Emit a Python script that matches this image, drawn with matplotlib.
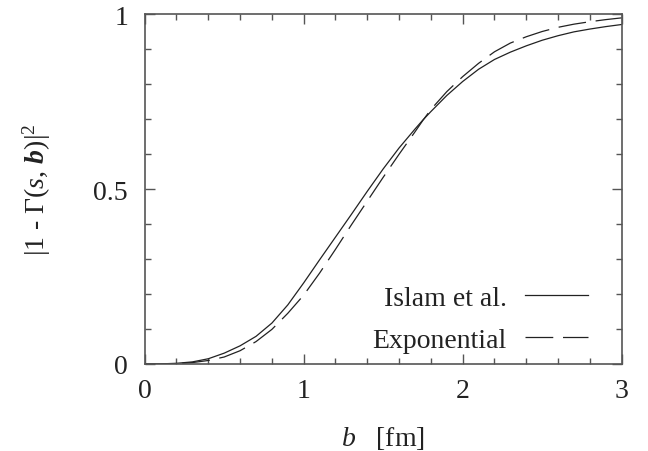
import numpy as np
import matplotlib
matplotlib.use('Agg')
from matplotlib import pyplot as plt
from matplotlib.ticker import MultipleLocator

# values
b = [0.0, 0.1, 0.2, 0.3, 0.4, 0.5, 0.6, 0.7, 0.8, 0.9, 1.0, 1.1, 1.2, 1.3,
     1.4, 1.5, 1.6, 1.7, 1.75, 1.8, 1.9, 2.0, 2.1, 2.2, 2.3, 2.4, 2.5, 2.6,
     2.7, 2.8, 2.9, 3.0]
islam = [0.0, 0.0003, 0.002, 0.006, 0.015, 0.031, 0.052, 0.079, 0.117,
         0.169, 0.232, 0.298, 0.363, 0.428, 0.494, 0.558, 0.618, 0.672,
         0.698, 0.722, 0.768, 0.808, 0.843, 0.871, 0.892, 0.91, 0.926,
         0.939, 0.95, 0.958, 0.965, 0.971]
expo = [0.0, 0.0002, 0.001, 0.004, 0.010, 0.020, 0.038, 0.064, 0.099,
        0.145, 0.197, 0.26, 0.328, 0.398, 0.466, 0.534, 0.60, 0.664,
        0.697, 0.728, 0.779, 0.822, 0.86, 0.893, 0.918, 0.936, 0.951,
        0.963, 0.972, 0.979, 0.985, 0.99]

plt.rcParams['font.family'] = ['Liberation Serif']
plt.rcParams['mathtext.fontset'] = 'custom'
plt.rcParams['mathtext.rm'] = 'Liberation Serif'
plt.rcParams['mathtext.it'] = 'Liberation Serif:italic'
plt.rcParams['mathtext.bf'] = 'Liberation Serif:bold'
plt.rcParams['mathtext.bfit'] = 'Liberation Serif:italic:bold'
plt.rcParams['font.size'] = 20
plt.rcParams['lines.scale_dashes'] = False

fig, ax = plt.subplots(figsize=(6.48, 4.52), dpi=100)
fig.subplots_adjust(left=0.2233, right=0.9594, top=0.966, bottom=0.1925)

ax.plot(b, islam, color='#222222', lw=0.9, label='Islam et al.')
ax.plot(b, expo, color='#222222', lw=0.9, dashes=(20, 7), label='Exponential')

ax.set_xlim(0, 3)
ax.set_ylim(0, 1)
ax.set_xticks([0, 1, 2, 3])
ax.set_yticks([0, 0.5, 1])
ax.set_yticklabels(['0', '0.5', '1'])
ax.xaxis.set_minor_locator(MultipleLocator(0.2))
ax.yaxis.set_minor_locator(MultipleLocator(0.1))
ax.tick_params(which='both', direction='in', top=True, right=True,
               color='#555555', width=1.0, labelcolor='#222222')
ax.tick_params(which='major', length=7)
ax.tick_params(which='minor', length=4)
ax.tick_params(axis='x', which='major', pad=10)
ax.tick_params(axis='y', which='major', pad=12)
for s in ax.spines.values():
    s.set_color('#555555')
    s.set_linewidth(1.2)

ax.set_xlabel(r'$b$   [fm]', color='#222222')
ax.set_ylabel(r'$|1$ - $\Gamma(s,\,\mathbfit{b})|^2$', color='#222222')
ax.xaxis.set_label_coords(0.5, -0.172)
ax.yaxis.set_label_coords(-0.192, 0.5)

ax.legend(loc='lower right', bbox_to_anchor=(0.952, 0.0), frameon=False,
          markerfirst=False, handlelength=2.27, handletextpad=0.65,
          labelspacing=0.6, borderaxespad=0.0, labelcolor='#222222')

fig.savefig('out.png', dpi=100)
